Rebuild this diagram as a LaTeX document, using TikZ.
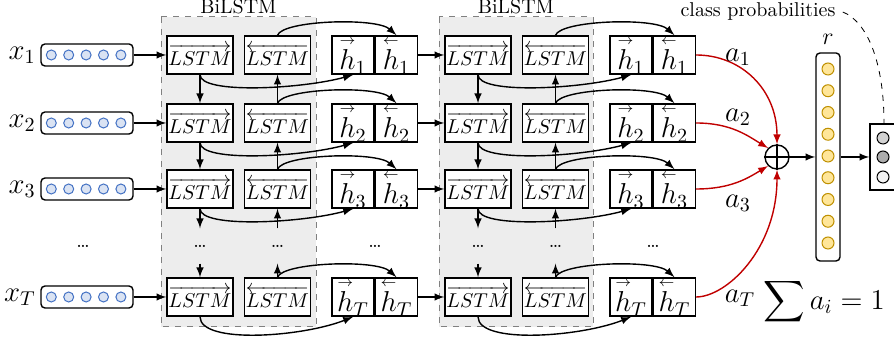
\documentclass[tikz,border=0pt]{standalone}
\usepackage{amsmath}
\usetikzlibrary{arrows,calc,positioning}

\definecolor{regiongray}{HTML}{EDEDED}
\definecolor{unitblue}{HTML}{DAE3F3}
\definecolor{unitedge}{HTML}{4472C4}
\definecolor{unityellow}{HTML}{FFE699}
\definecolor{unitgold}{HTML}{BF9000}
\definecolor{attred}{HTML}{C00000}

% small arrows over the hidden states
\newcommand{\hfw}[1]{{\overset{\scriptscriptstyle\rightarrow}{h}}_{#1}}
\newcommand{\hbw}[1]{{\overset{\scriptscriptstyle\leftarrow}{h}}_{#1}}

\tikzset{
  region/.style={draw=gray, dashed, line width=0.5pt, fill=regiongray},
  lstm/.style={draw, fill=white, minimum width=33pt, minimum height=19pt, inner sep=0pt},
  hhalf/.style={draw, fill=white, minimum width=21pt, minimum height=18.5pt, inner sep=0pt, font=\Large},
  invec/.style={draw, fill=white, rounded corners=2pt, minimum width=46pt, minimum height=11pt, inner sep=0pt},
  inunit/.style={circle, draw=unitedge, fill=unitblue, line width=0.5pt, minimum size=5pt, inner sep=0pt},
  runit/.style={circle, draw=unitgold, fill=unityellow, line width=0.5pt, minimum size=6pt, inner sep=0pt},
  outunit/.style={circle, draw, line width=0.5pt, minimum size=6pt, inner sep=0pt},
  vdots/.style={minimum height=17pt, inner sep=0pt},
  att/.style={->, draw=attred}
}

\begin{document}
\begin{tikzpicture}[x=0.5pt, y=0.5pt, >=latex, line width=0.7pt]
\useasboundingbox (0,0) rectangle (894,-340);

%%%%%%%%%%%%%%%%% BiLSTM backgrounds
\draw[region] (161,-17) rectangle (316,-327);
\draw[region] (439,-17) rectangle (593,-327);
\node (lab1) at (238.5,-7) {BiLSTM};
\node (lab2) at (516,-7) {BiLSTM};

%%%%%%%%%%%%%%%%% inputs
\foreach \rw/\y in {1/55,2/123,3/189,T/297}{
  \node[invec] (in\rw) at (87,-\y) {};
  \node[left=2pt of in\rw, font=\Large, inner sep=0pt] (x\rw) {$x_\rw$};
  \foreach \k in {0,...,4}
    \node[inunit] (in\rw-\k) at ($(in\rw.west)+(11+17.4*\k,0)$) {};
}
\node (xdots) at (83,-246) {\dots};

%%%%%%%%%%%%%%%%% the two layers
\foreach \ly/\dx in {1/0,2/278}{
  \foreach \rw/\y in {1/55,2/123,3/189,T/297}{
    \node[lstm] (fw\ly\rw) at (200+\dx,-\y) {$\overrightarrow{LSTM}$};
    \node[lstm] (bw\ly\rw) at (277.5+\dx,-\y) {$\overleftarrow{LSTM}$};
    \node[hhalf] (hf\ly\rw) at (353+\dx,-\y) {$\hfw{\rw}$};
    \node[hhalf, right=0pt of hf\ly\rw] (hb\ly\rw) {$\hbw{\rw}$};
  }
  \node[vdots] (fd\ly) at (200+\dx,-246) {\dots};
  \node[vdots] (bd\ly) at (277.5+\dx,-246) {\dots};
  \node (hd\ly) at (375+\dx,-246) {\dots};
  \foreach \a/\b in {1/2,2/3}{
    \draw[->] (fw\ly\a) -- (fw\ly\b);
    \draw[->] (bw\ly\b) -- (bw\ly\a);
  }
  \draw[->] (fw\ly3) -- (fd\ly);
  \draw[->] (fd\ly) -- (fw\ly T);
  \draw[->] (bd\ly) -- (bw\ly3);
  \draw[->] (bw\ly T) -- (bd\ly);
  \foreach \rw in {1,2,3}{
    \draw[->] (fw\ly\rw.south) .. controls +(0,-20) and +(-50,-14) .. (hf\ly\rw.south);
    \draw[->] (bw\ly\rw.north) .. controls +(5,15) and +(-20,18) .. (hb\ly\rw.north);
  }
  \draw[->] (fw\ly T.south) .. controls +(0,-28) and +(-50,-20) .. (hf\ly T.south);
  \draw[->] (bw\ly T.north) .. controls +(5,15) and +(-20,18) .. (hb\ly T.north);
}

\foreach \rw in {1,2,3,T}{
  \draw[->] (in\rw) -- (fw1\rw);
  \draw[->] (hb1\rw) -- (fw2\rw);
}

%%%%%%%%%%%%%%%%% attention and output
\node[circle, draw, minimum size=12pt, inner sep=0pt] (sum) at (777,-157) {};
\draw (sum.north) -- (sum.south) (sum.west) -- (sum.east);

\draw[att] (hb21.east) .. controls +(45,0) and +(0,55) .. (sum.north);
\draw[att] (hb22.east) .. controls +(35,0) and +(-20,12) .. (sum.north west);
\draw[att] (hb23.east) .. controls +(35,0) and +(-20,-12) .. (sum.south west);
\draw[att] (hb2T.east) .. controls +(30,0) and +(0,-80) .. (sum.south);
\node[font=\Large] (a1) at (738,-57) {$a_1$};
\node[font=\Large] (a2) at (738,-117) {$a_2$};
\node[font=\Large] (a3) at (738,-203) {$a_3$};
\node[font=\Large] (aT) at (740,-298) {$a_T$};

\node[draw, fill=white, rounded corners=2pt, minimum width=12pt, minimum height=104pt, inner sep=0pt] (rvec) at (828,-157) {};
\foreach \k in {0,...,8}
  \node[runit] (r\k) at (828,-69-21.75*\k) {};
\node[above=0pt of rvec, font=\large] (rlab) {$r$};

\node[draw, fill=white, minimum width=14pt, minimum height=33pt, inner sep=0pt] (out) at (884,-157) {};
\node[outunit, fill=gray!35] (o1) at (883,-138) {};
\node[outunit, fill=gray!65] (o2) at (883,-157) {};
\node[outunit, fill=gray!10] (o3) at (883,-177) {};
\draw[->] (sum) -- (rvec);
\draw[->] (rvec) -- (out);

\node (cls) at (758,-12) {class probabilities};
\draw[dashed, line width=0.4pt] (cls.east) .. controls +(25,-10) and +(0,60) .. (out.north);

\node[font=\Large, anchor=east] (norm) at (892,-302) {$\displaystyle\sum a_i = 1$};
\end{tikzpicture}
\end{document}
